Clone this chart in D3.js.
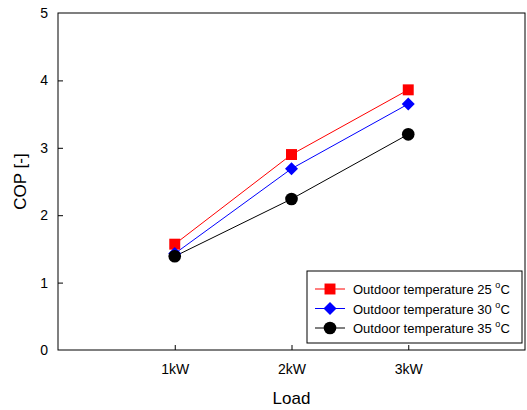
<!DOCTYPE html>
<html>
<head>
<meta charset="utf-8">
<script src="https://cdn.jsdelivr.net/npm/d3@7"></script>
<style>
  body { margin: 0; background: #fff; }
  svg { font-family: "Liberation Sans", Arial, sans-serif; }
</style>
</head>
<body>
<svg id="chart" width="527" height="410"></svg>
<script>
const categories = ["1kW", "2kW", "3kW"];
const yTicks = [0, 1, 2, 3, 4, 5];
const seriesNames = ["Outdoor temperature 25 ", "Outdoor temperature 30 ", "Outdoor temperature 35 "];
const cop25 = [1.57, 2.90, 3.86];
const cop30 = [1.43, 2.69, 3.65];
const cop35 = [1.39, 2.24, 3.20];

const series = [
    { name: seriesNames[0], values: cop25, color: "#ff0000", symbol: d3.symbolSquare, size: 120, rot: 0 },
    { name: seriesNames[1], values: cop30, color: "#0000ff", symbol: d3.symbolSquare, size: 85, rot: 45 },
    { name: seriesNames[2], values: cop35, color: "#000000", symbol: d3.symbolCircle, size: 125, rot: 0 }
];

const W = 527, H = 410;
const margin = { left: 58, right: 2, top: 13, bottom: 60 };
const svg = d3.select("#chart");

const x = d3.scaleLinear().domain([0, 4]).range([margin.left, W - margin.right]);
const y = d3.scaleLinear().domain([0, 5]).range([H - margin.bottom, margin.top]);

// frame
svg.append("rect")
    .attr("x", x(0)).attr("y", y(5))
    .attr("width", x(4) - x(0)).attr("height", y(0) - y(5))
    .attr("fill", "none").attr("stroke", "#000").attr("stroke-width", 1);

// y axis
const yAxis = svg.append("g")
    .attr("transform", `translate(${x(0)},0)`)
    .call(d3.axisLeft(y).tickValues(yTicks).tickSize(-5).tickPadding(10).tickFormat(d3.format("d")));
yAxis.select(".domain").remove();
yAxis.selectAll("text").attr("font-size", 14).attr("fill", "#000");
yAxis.selectAll("line").attr("stroke", "#000").filter(d => d === 0 || d === 5).remove();

// x axis
const xAxis = svg.append("g")
    .attr("transform", `translate(0,${y(0)})`)
    .call(d3.axisBottom(x).tickValues([1, 2, 3]).tickSize(-5).tickPadding(14)
        .tickFormat((d, i) => categories[i]));
xAxis.select(".domain").remove();
xAxis.selectAll("text").attr("font-size", 14).attr("fill", "#000");
xAxis.selectAll("line").attr("stroke", "#000");

// axis titles
svg.append("text")
    .attr("transform", `translate(26,${(y(0) + y(5)) / 2}) rotate(-90)`)
    .attr("text-anchor", "middle").attr("font-size", 17).text("COP [-]");
svg.append("text")
    .attr("x", x(2)).attr("y", 404)
    .attr("text-anchor", "middle").attr("font-size", 17).text("Load");

// series
const line = d3.line().x((d, i) => x(i + 1)).y(d => y(d));
series.forEach(s => {
    svg.append("path").datum(s.values)
        .attr("d", line).attr("fill", "none")
        .attr("stroke", s.color).attr("stroke-width", 1);
});
series.forEach(s => {
    svg.append("g").selectAll("path").data(s.values).join("path")
        .attr("transform", (d, i) => `translate(${x(i + 1)},${y(d)}) rotate(${s.rot})`)
        .attr("d", d3.symbol().type(s.symbol).size(s.size)())
        .attr("fill", s.color);
});

// legend
const lg = svg.append("g").attr("transform", "translate(307,271)");
lg.append("rect").attr("width", 215).attr("height", 72)
    .attr("fill", "#fff").attr("stroke", "#000").attr("stroke-width", 1);
series.forEach((s, i) => {
    const row = lg.append("g").attr("transform", `translate(0,${18 + i * 19.5})`);
    row.append("line").attr("x1", 8).attr("x2", 38)
        .attr("stroke", s.color).attr("stroke-width", 1);
    row.append("path").attr("transform", `translate(23,0) rotate(${s.rot})`)
        .attr("d", d3.symbol().type(s.symbol).size(s.size)())
        .attr("fill", s.color);
    const t = row.append("text").attr("x", 46).attr("y", 5).attr("font-size", 13);
    t.append("tspan").text(s.name);
    t.append("tspan").attr("font-size", 9).attr("dy", -6).text("o");
    t.append("tspan").attr("dy", 6).text("C");
});
</script>
</body>
</html>
